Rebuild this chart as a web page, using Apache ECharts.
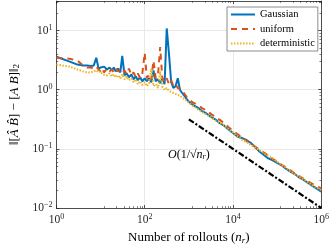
<!DOCTYPE html>
<html><head><meta charset="utf-8">
<script src="https://cdn.jsdelivr.net/npm/echarts@6/dist/echarts.min.js"></script>
<style>html,body{margin:0;padding:0;background:#fff}#c{width:332px;height:250px}</style>
</head><body><div id="c"></div>
<script>
const rollouts = [1,2,3,4,5,6,7,8,9,10,
 11,12,14,16,18,20,22,25,28,31,35,39,44,50,56,63,70,79,88,100,
 112,126,141,158,178,200,224,251,282,316,355,398,447,501,562,631,708,794,891,1000,
 1259,1585,1995,2512,3162,3981,5012,6310,7943,10000,
 12589,15849,19953,25119,31623,39811,50119,63096,79433,100000,
 125893,158489,199526,251189,316228,398107,501187,630957,794328,1000000];
const gaussian = [3.61,2.98,2.66,2.56,2.56,2.51,2.56,3.47,2.28,2.37,
 2.20,2.46,2.20,2.37,2.12,2.37,2.04,2.28,1.96,3.75,1.75,1.89,1.62,1.82,1.50,1.68,1.45,1.62,1.39,1.56,
 1.39,1.56,1.34,2.12,1.39,1.50,1.29,1.56,1.24,10.87,4.04,1.34,1.07,1.15,1.56,0.99,0.88,0.79,0.70,0.626,
 0.548,0.498,0.436,0.397,0.347,0.316,0.271,0.246,0.212,0.185,
 0.162,0.153,0.142,0.127,0.107,0.090,0.0787,0.0689,0.0638,0.058,
 0.0528,0.0462,0.0412,0.0375,0.0328,0.0298,0.0266,0.0237,0.0212,0.0189];
const uniform = [3.47,3.34,3.10,2.56,2.37,2.37,2.28,2.46,2.20,2.04,
 2.28,1.96,2.28,2.04,2.20,1.96,2.28,2.04,2.20,1.96,2.12,1.82,2.28,1.75,1.96,1.62,1.89,1.56,1.82,4.20,
 1.56,1.82,1.50,3.10,1.56,1.75,5.28,1.56,1.34,1.56,1.24,1.45,1.15,1.24,1.07,1.03,0.99,0.85,0.76,0.68,
 0.603,0.559,0.489,0.444,0.390,0.347,0.310,0.271,0.233,0.200,
 0.178,0.156,0.137,0.122,0.109,0.097,0.0865,0.0772,0.0676,0.0603,
 0.0538,0.0489,0.0436,0.0382,0.0347,0.0310,0.0282,0.0256,0.0232,0.0216];
const deterministic = [2.66,2.46,2.20,2.04,1.96,1.96,2.04,2.12,1.96,2.04,
 1.82,1.96,1.75,1.89,1.68,1.82,1.62,1.75,1.56,1.82,1.50,1.68,1.45,1.56,1.34,1.50,1.24,1.39,1.20,1.34,
 1.15,1.29,2.28,1.15,1.24,1.07,2.04,1.11,0.99,1.07,0.95,0.92,0.88,0.85,0.82,0.79,0.73,0.70,0.65,0.603,
 0.528,0.471,0.420,0.382,0.340,0.304,0.277,0.251,0.216,0.189,
 0.165,0.144,0.1315,0.117,0.105,0.095,0.085,0.0757,0.0689,0.0603,
 0.0538,0.048,0.042,0.0375,0.034,0.0304,0.0271,0.0242,0.022,0.020];
const rateX = [1000, 1000000];
const rateY = [0.316, 0.01];
const seriesNames = ['Gaussian','uniform','deterministic'];
const xTickValues = [1, 100, 10000, 1000000];
const xTickLabels = ['0','2','4','6'];
const yTickValues = [0.01, 0.1, 1, 10];
const yTickLabels = ['\u22122','\u22121','0','1'];

const FONT = 'Liberation Serif';
const pair = (xs, ys) => xs.map((x, i) => [x, ys[i]]);
function tickFmt(vals, labs) {
  return v => {
    const i = vals.findIndex(t => Math.abs(Math.log10(t) - Math.log10(v)) < 1e-6);
    return i < 0 ? '' : '{b|10}{s|' + labs[i] + '}';
  };
}
const tickRich = {
  b: {fontFamily: FONT, fontSize: 11.5, color: '#262626'},
  s: {fontFamily: FONT, fontSize: 8, color: '#262626', padding: [0, 0, 6, 0]}
};
const axisCommon = {
  type: 'log', logBase: 10,
  axisLine: {show: true, lineStyle: {color: '#262626', width: 0.8}},
  axisTick: {show: true, inside: true, length: 3, lineStyle: {color: '#262626', width: 0.8}},
  minorTick: {show: true, splitNumber: 9, length: 1.8, lineStyle: {color: '#262626', width: 0.6}},
  splitLine: {show: true, lineStyle: {color: '#e3e3e3', width: 0.8}}
};
const chart = echarts.init(document.getElementById('c'), null, {renderer: 'canvas'});
chart.setOption({
  animation: false,
  backgroundColor: '#fff',
  grid: {left: 44, right: 9.5, top: 1, bottom: 37.7, containLabel: false},
  legend: {
    data: seriesNames, orient: 'vertical', left: 227, top: 7,
    itemWidth: 24, itemHeight: 10, itemGap: 3.5,
    padding: [2, 3, 2, 3],
    itemStyle: {opacity: 0},
    borderColor: '#707070', borderWidth: 0.8, backgroundColor: '#fff',
    textStyle: {fontFamily: FONT, fontSize: 10.5, color: '#000'}
  },
  xAxis: [
    Object.assign({}, axisCommon, {
      min: 1, max: 1000000, interval: 2, position: 'bottom',
      axisLabel: {formatter: tickFmt(xTickValues, xTickLabels), rich: tickRich, margin: 5, showMaxLabel: true},
      name: 'Number of rollouts ({i|n}{r|r})', nameLocation: 'middle', nameGap: 23,
      nameTextStyle: {fontFamily: FONT, fontSize: 13, color: '#000',
        rich: {i: {fontFamily: FONT, fontStyle: 'italic', fontSize: 13}, r: {fontFamily: FONT, fontStyle: 'italic', fontSize: 9, padding: [5, 0, 0, 0]}}}
    }),
    Object.assign({}, axisCommon, {
      min: 1, max: 1000000, interval: 2, position: 'top',
      axisLabel: {show: false}, splitLine: {show: false}
    })
  ],
  yAxis: [
    Object.assign({}, axisCommon, {
      min: 0.01, max: 31.6228, interval: 1, position: 'left',
      axisLabel: {formatter: tickFmt(yTickValues, yTickLabels), rich: tickRich, margin: 4, showMaxLabel: false},
      name: '\u2016[{i|\u00C2} {i|B\u0302}] \u2212 [{i|A} {i|B}]\u2016{s|2}', nameLocation: 'middle', nameGap: 26, nameRotate: 90,
      nameTextStyle: {fontFamily: FONT, fontSize: 13, color: '#000',
        rich: {i: {fontFamily: FONT, fontStyle: 'italic', fontSize: 13}, s: {fontFamily: FONT, fontSize: 9, padding: [5, 0, 0, 0]}}}
    }),
    Object.assign({}, axisCommon, {
      min: 0.01, max: 31.6228, interval: 1, position: 'right',
      axisLabel: {show: false}, splitLine: {show: false}
    })
  ],
  graphic: [{
    type: 'text', left: 168, top: 149, z: 100,
    style: {text: '{o|O}(1/\u221A{i|n}{r|r})', fill: '#000', font: '12px "Liberation Serif"',
      rich: {o: {fontFamily: FONT, fontStyle: 'italic', fontSize: 12}, i: {fontFamily: FONT, fontStyle: 'italic', fontSize: 12}, r: {fontFamily: FONT, fontStyle: 'italic', fontSize: 8, padding: [4, 0, 0, 0]}}}
  }],
  series: [
    {name: seriesNames[0], type: 'line', data: pair(rollouts, gaussian), symbol: 'none', showSymbol: false,
     color: '#0072BD', lineStyle: {width: 2, color: '#0072BD'}, z: 2},
    {name: seriesNames[1], type: 'line', data: pair(rollouts, uniform), symbol: 'none', showSymbol: false,
     color: '#D95319', lineStyle: {width: 2, color: '#D95319', type: [6, 5]}, z: 3},
    {name: seriesNames[2], type: 'line', data: pair(rollouts, deterministic), symbol: 'none', showSymbol: false,
     color: '#EDB120', lineStyle: {width: 2, color: '#EDB120', type: [1.5, 1.5]}, z: 4},
    {name: 'rate', type: 'line', data: pair(rateX, rateY), symbol: 'none', showSymbol: false,
     color: '#000', lineStyle: {width: 2.2, color: '#000', type: [6, 2, 2, 2]}, z: 5}
  ]
});
</script></body></html>
